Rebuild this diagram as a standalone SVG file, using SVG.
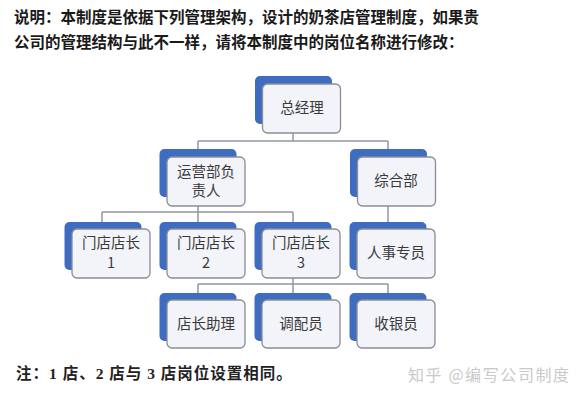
<svg xmlns="http://www.w3.org/2000/svg" width="585" height="400" viewBox="0 0 585 400">
<style>
.back{fill:#3e6cc1;}
.front{fill:#f2f4f9;stroke:#8a8d94;stroke-width:1.3;}
.lbl{font-family:"Noto Sans CJK SC","Noto Sans",sans-serif;font-size:14.5px;fill:#3a3a3a;text-anchor:middle;}
.hdr{font-family:"Noto Sans CJK SC","Noto Sans",sans-serif;font-size:15.5px;font-weight:bold;fill:#1a1a1a;}
.conn{fill:none;stroke:#8e98a8;stroke-width:1.5;}
</style>
<rect width="585" height="400" fill="#ffffff"/>
<text class="hdr" x="14" y="23">说明：本制度是依据下列管理架构，设计的奶茶店管理制度，如果贵</text>
<text class="hdr" x="14" y="48">公司的管理结构与此不一样，请将本制度中的岗位名称进行修改：</text>
<g id="connectors">
<path class="conn" d="M293,133 V141 M198,141 H388 M198,141 V149 M388,141 V149"/>
<path class="conn" d="M198,206 V212 M102,212 H293 M102,212 V222 M198,212 V222 M293,212 V222"/>
<path class="conn" d="M388,206 V222"/>
<path class="conn" d="M293,278 V284 M198,284 H388 M198,284 V293 M293,284 V293 M388,284 V293"/>
</g>
<g id="n-gm">
<rect class="back" x="255" y="76" width="77" height="48" rx="5"/>
<rect class="front" x="262.5" y="84" width="78" height="49" rx="5"/>
<text class="lbl" x="302" y="113">总经理</text>
</g>
<g id="n-ops">
<rect class="back" x="159.5" y="149" width="77" height="48" rx="5"/>
<rect class="front" x="167" y="157" width="78" height="49" rx="5"/>
<text class="lbl" x="206" y="177">运营部负</text>
<text class="lbl" x="206" y="196">责人</text>
</g>
<g id="n-admin">
<rect class="back" x="350" y="149" width="77" height="48" rx="5"/>
<rect class="front" x="357.5" y="157" width="78" height="49" rx="5"/>
<text class="lbl" x="396" y="186">综合部</text>
</g>
<g id="n-s1">
<rect class="back" x="64.5" y="222" width="77" height="48" rx="5"/>
<rect class="front" x="72" y="229" width="78" height="49" rx="5"/>
<text class="lbl" x="111" y="248">门店店长</text>
<text class="lbl" x="111" y="268">1</text>
</g>
<g id="n-s2">
<rect class="back" x="159.5" y="222" width="77" height="48" rx="5"/>
<rect class="front" x="167" y="229" width="78" height="49" rx="5"/>
<text class="lbl" x="206" y="248">门店店长</text>
<text class="lbl" x="206" y="268">2</text>
</g>
<g id="n-s3">
<rect class="back" x="254.5" y="222" width="77" height="48" rx="5"/>
<rect class="front" x="262" y="229" width="78" height="49" rx="5"/>
<text class="lbl" x="301" y="248">门店店长</text>
<text class="lbl" x="301" y="268">3</text>
</g>
<g id="n-hr">
<rect class="back" x="349.5" y="222" width="77" height="48" rx="5"/>
<rect class="front" x="357" y="229" width="78" height="49" rx="5"/>
<text class="lbl" x="396" y="258">人事专员</text>
</g>
<g id="n-asst">
<rect class="back" x="159.5" y="293" width="77" height="48" rx="5"/>
<rect class="front" x="167" y="300" width="78" height="48" rx="5"/>
<text class="lbl" x="206" y="329">店长助理</text>
</g>
<g id="n-disp">
<rect class="back" x="254.5" y="293" width="77" height="48" rx="5"/>
<rect class="front" x="262" y="300" width="78" height="48" rx="5"/>
<text class="lbl" x="301" y="329">调配员</text>
</g>
<g id="n-cash">
<rect class="back" x="349.5" y="293" width="77" height="48" rx="5"/>
<rect class="front" x="357" y="300" width="78" height="48" rx="5"/>
<text class="lbl" x="396" y="329">收银员</text>
</g>
<text x="16" y="379" font-family="'Liberation Serif','Noto Sans CJK SC',serif" font-size="15.5" font-weight="bold" letter-spacing="1" fill="#222">注：1 店、2 店与 3 店岗位设置相同。</text>
<text x="408" y="381" font-family="'Noto Sans CJK SC',sans-serif" font-size="16" letter-spacing="1.6" fill="#c9c9c9">知乎 @编写公司制度</text>
</svg>
